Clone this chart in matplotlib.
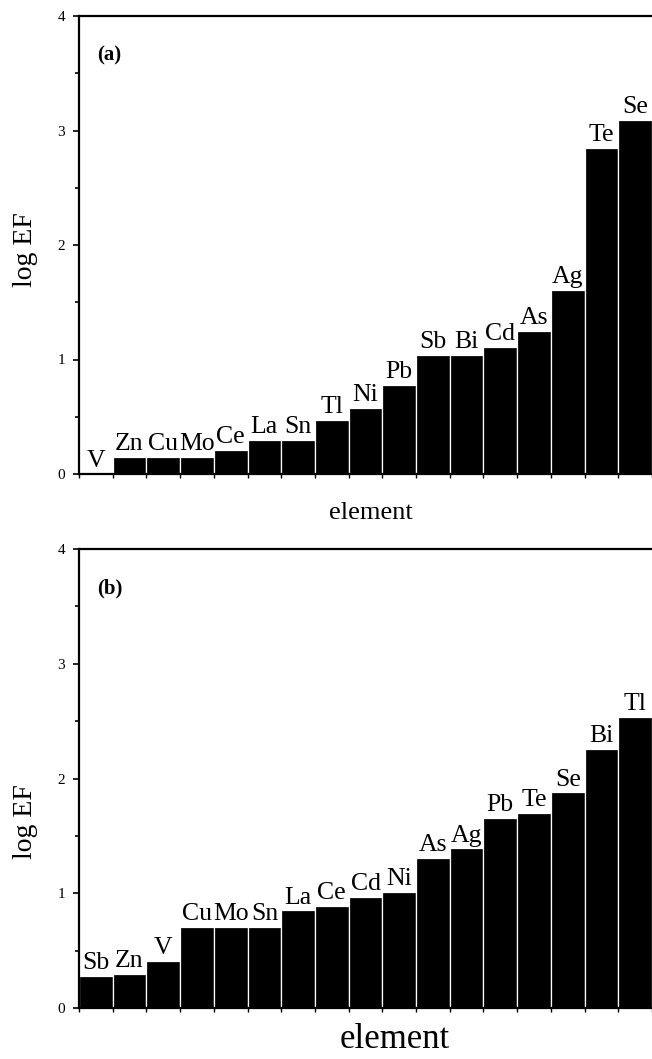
import matplotlib
matplotlib.use("Agg")
import matplotlib.pyplot as plt
from matplotlib.ticker import MultipleLocator, FixedLocator, NullFormatter

plt.rcParams['font.family'] = ['Liberation Serif', 'DejaVu Serif']

elements_a = ["V", "Zn", "Cu", "Mo", "Ce", "La", "Sn", "Tl", "Ni", "Pb",
              "Sb", "Bi", "Cd", "As", "Ag", "Te", "Se"]
log_ef_a = [0.0, 0.15, 0.15, 0.15, 0.21, 0.30, 0.30, 0.47, 0.58, 0.78,
            1.04, 1.04, 1.11, 1.25, 1.61, 2.85, 3.09]

elements_b = ["Sb", "Zn", "V", "Cu", "Mo", "Sn", "La", "Ce", "Cd", "Ni",
              "As", "Ag", "Pb", "Te", "Se", "Bi", "Tl"]
log_ef_b = [0.28, 0.30, 0.41, 0.71, 0.71, 0.71, 0.85, 0.89, 0.97, 1.01,
            1.31, 1.39, 1.655, 1.70, 1.88, 2.26, 2.54]

panel_labels = ["(a)", "(b)"]
y_ticks = [0, 1, 2, 3, 4]

W, H = 652, 1059
fig = plt.figure(figsize=(W / 100, H / 100), dpi=100)

def fx(px):
    return px / W

def fy(py):
    return 1 - py / H

axes_px = [(79, 16, 652, 474), (79, 549, 652, 1008)]
panel_label_px = [(97, 55), (97, 588)]
datasets = [(elements_a, log_ef_a), (elements_b, log_ef_b)]

for i, ((x0, y0, x1, y1), (names, vals)) in enumerate(zip(axes_px, datasets)):
    ax = fig.add_axes([fx(x0), fy(y1), fx(x1 - x0), (y1 - y0) / H])
    n = len(names)
    xs = list(range(n))
    ax.bar(xs, vals, width=1.0, color="black", edgecolor="white", linewidth=0.9)
    for x, v, name in zip(xs, vals, names):
        ax.text(x, v + 0.015, name, ha="center", va="bottom", fontsize=18.5)
    ax.set_xlim(-0.5, n - 0.5)
    ax.set_ylim(0, 4)
    ax.yaxis.set_major_locator(FixedLocator(y_ticks))
    ax.yaxis.set_minor_locator(MultipleLocator(0.5))
    ax.xaxis.set_major_locator(FixedLocator([k + 0.5 for k in range(-1, n)]))
    ax.xaxis.set_major_formatter(NullFormatter())
    ax.tick_params(axis="y", which="major", length=4, width=1.2, labelsize=11,
                   pad=6, direction="out")
    ax.tick_params(axis="y", which="minor", length=3, width=1.2, direction="out")
    ax.tick_params(axis="x", which="major", length=3, width=1.0, direction="out")
    ax.spines["right"].set_visible(False)
    for s in ["left", "top", "bottom"]:
        ax.spines[s].set_linewidth(1.6)
    lx, ly = panel_label_px[i]
    ax.text((lx - x0) / (x1 - x0), 1 - (ly - y0) / (y1 - y0),
            panel_labels[i], transform=ax.transAxes, fontsize=15,
            fontweight="bold", ha="left", va="center")

fig.text(fx(26), fy(250), "log EF", rotation=90, ha="center", va="center", fontsize=20)
fig.text(fx(371), fy(513), "element", ha="center", va="center", fontsize=19)
fig.text(fx(26), fy(822), "log EF", rotation=90, ha="center", va="center", fontsize=20)
fig.text(fx(395), fy(1040), "element", ha="center", va="center", fontsize=25)

fig.savefig("out.png", dpi=100)
